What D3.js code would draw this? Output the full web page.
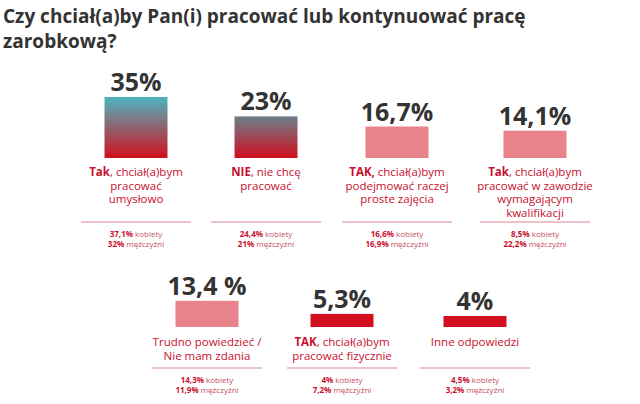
<!DOCTYPE html><html><head><meta charset="utf-8"><script src="https://cdn.jsdelivr.net/npm/d3@7"></script>
<style>body{margin:0;background:#fff}</style></head><body><svg id="c" width="640" height="404"></svg>
<script>
const values=[35,23,16.7,14.1,13.4,5.3,4];
const valueLabels=["35%","23%","16,7%","14,1%","13,4 %","5,3%","4%"];
const labels=[
 [["Tak",", chciał(a)bym"],["","pracować"],["","umysłowo"]],
 [["NIE",", nie chcę"],["","pracować"]],
 [["TAK,"," chciał(a)bym"],["","podejmować raczej"],["","proste zajęcia"]],
 [["Tak",", chciał(a)bym"],["","pracować w zawodzie"],["","wymagającym"],["","kwalifikacji"]],
 [["","Trudno powiedzieć /"],["","Nie mam zdania"]],
 [["TAK",", chciał(a)bym"],["","pracować fizycznie"]],
 [["","Inne odpowiedzi"]]];
const women=["37,1%","24,4%","16,6%","8,5%","14,3%","4%","4,5%"];
const men=["32%","21%","16,9%","22,2%","11,9%","7,2%","3,2%"];
const fills=["url(#g1)","url(#g2)","#e8838b","#e8838b","#e8838b","#d10f1e","#d10f1e"];
const cx=[136,266,397,535,207,342,475];
const base=[158,158,158,158,327,327,327];
const svg=d3.select("#c");
const defs=svg.append("defs");
[["g1","#4db4c0"],["g2","#6c808c"]].forEach(([id,c])=>{const g=defs.append("linearGradient").attr("id",id).attr("x1",0).attr("y1",0).attr("x2",0).attr("y2",1);
g.append("stop").attr("offset","0%").attr("stop-color",c);g.append("stop").attr("offset","100%").attr("stop-color","#d10f1e");});
const font="'Open Sans',sans-serif";
svg.append("text").attr("x",3).attr("y",23).attr("font-family",font).attr("font-weight",700).attr("font-size",19).attr("fill","#333").text("Czy chciał(a)by Pan(i) pracować lub kontynuować pracę");
svg.append("text").attr("x",3).attr("y",48).attr("font-family",font).attr("font-weight",700).attr("font-size",19).attr("fill","#333").text("zarobkową?");
const h=d3.scaleLinear().domain([4,35]).range([11,61]);
const red="#c8102e";
values.forEach((v,i)=>{
 const g=svg.append("g");const x=cx[i],b=base[i],hh=h(v);
 g.append("rect").attr("x",x-31.5).attr("y",b-hh).attr("width",63).attr("height",hh).attr("fill",fills[i]);
 g.append("text").attr("x",x).attr("y",b-hh-6).attr("text-anchor","middle").attr("font-family",font).attr("font-weight",700).attr("font-size",25).attr("fill","#333").text(valueLabels[i]);
 labels[i].forEach((ln,j)=>{const t=g.append("text").attr("x",x).attr("y",b+(i<4?18:19)+j*13.5).attr("text-anchor","middle").attr("font-family",font).attr("font-size",11.5).attr("fill",red);
  t.append("tspan").attr("font-weight",700).text(ln[0]);t.append("tspan").text(ln[1]);});
 const ly=b+(i<4?64:41);
 g.append("line").attr("x1",x-55).attr("x2",x+55).attr("y1",ly).attr("y2",ly).attr("stroke","#d9868d").attr("stroke-width",1);
 [[women[i]," kobiety"],[men[i]," mężczyźni"]].forEach((p,j)=>{const t=g.append("text").attr("x",x).attr("y",ly+15+j*10).attr("text-anchor","middle").attr("font-family",font).attr("font-size",8).attr("fill",red);
  t.append("tspan").attr("font-weight",700).text(p[0]);t.append("tspan").attr("fill","#c4505e").text(p[1]);});
});
</script></body></html>
